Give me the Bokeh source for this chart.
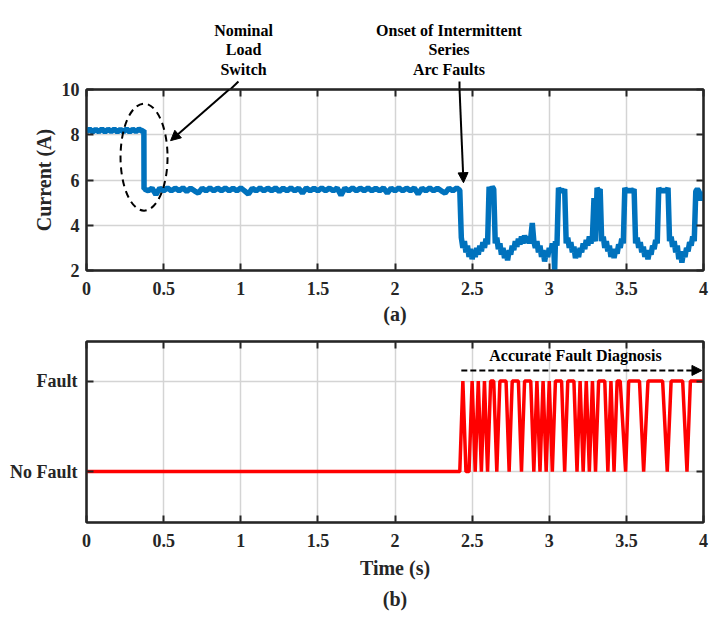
from bokeh.plotting import figure
from bokeh.models import (Range1d, LinearAxis, FixedTicker, Label, Arrow, NormalHead,
                          Title, NumeralTickFormatter)
from bokeh.layouts import column
from bokeh.embed import file_html
from bokeh.resources import INLINE

# ---------------- data ----------------
# (a) measured current, A
pre_switch_start = 0.0
pre_switch_step = 0.02
pre_switch_current = [8.14, 8.25, 8.12, 8.24, 8.13, 8.26, 8.12, 8.24, 8.14, 8.25,
                      8.12, 8.24, 8.13, 8.26, 8.12, 8.24, 8.14, 8.25, 8.16]
switch_time = [0.372, 0.373]
switch_current = [8.20, 5.60]

nominal_start = 0.375
nominal_step = 0.025
nominal_current = [5.60, 5.52, 5.64, 5.35, 5.64, 5.52, 5.65, 5.52, 5.64, 5.53,
                   5.65, 5.50, 5.64, 5.52, 5.42, 5.64, 5.52, 5.65, 5.52, 5.64,
                   5.53, 5.65, 5.52, 5.64, 5.52, 5.65, 5.52, 5.38, 5.64, 5.52,
                   5.65, 5.52, 5.64, 5.53, 5.65, 5.50, 5.64, 5.52, 5.65, 5.52,
                   5.64, 5.42, 5.65, 5.52, 5.64, 5.52, 5.65, 5.53, 5.64, 5.52,
                   5.65, 5.33, 5.64, 5.52, 5.65, 5.52, 5.64, 5.53, 5.65, 5.52,
                   5.64, 5.52, 5.65, 5.42, 5.64, 5.52, 5.65, 5.52, 5.64, 5.53,
                   5.65, 5.38, 5.64, 5.52, 5.65, 5.52, 5.64, 5.52, 5.42, 5.64,
                   5.52, 5.65]

fault_time = [2.42, 2.43, 2.44, 2.45, 2.46, 2.47, 2.48, 2.49, 2.50, 2.51,
              2.52, 2.53, 2.54, 2.55, 2.56, 2.57, 2.58, 2.59, 2.60, 2.61,
              2.62, 2.63, 2.64, 2.65, 2.66, 2.67, 2.68, 2.69, 2.70, 2.71,
              2.72, 2.73, 2.74, 2.75, 2.76, 2.77, 2.78, 2.79, 2.80, 2.81,
              2.82, 2.83, 2.84, 2.85, 2.86, 2.87, 2.88, 2.89, 2.90, 2.91,
              2.92, 2.93, 2.94, 2.95, 2.96, 2.97, 2.98, 2.99, 3.00, 3.01,
              3.02, 3.03, 3.035, 3.04, 3.05, 3.06, 3.07, 3.08, 3.09, 3.10,
              3.11, 3.12, 3.13, 3.14, 3.15, 3.16, 3.17, 3.18, 3.19, 3.20,
              3.21, 3.22, 3.23, 3.24, 3.25, 3.26, 3.27, 3.28, 3.29, 3.295,
              3.30, 3.31, 3.32, 3.33, 3.34, 3.35, 3.36, 3.37, 3.38, 3.39,
              3.40, 3.41, 3.42, 3.43, 3.44, 3.45, 3.46, 3.47, 3.48, 3.49,
              3.50, 3.51, 3.52, 3.53, 3.54, 3.55, 3.56, 3.57, 3.58, 3.59,
              3.60, 3.61, 3.62, 3.63, 3.64, 3.65, 3.66, 3.67, 3.68, 3.69,
              3.70, 3.71, 3.72, 3.73, 3.74, 3.75, 3.76, 3.77, 3.78, 3.79,
              3.80, 3.81, 3.82, 3.83, 3.84, 3.85, 3.86, 3.87, 3.88, 3.89,
              3.90, 3.91, 3.92, 3.93, 3.94, 3.95, 3.96, 3.97, 3.98, 3.99,
              4.00]
fault_current = [5.55, 3.45, 3.00, 3.30, 2.80, 3.10, 2.60, 2.95, 2.50, 2.90,
                 2.60, 3.00, 2.70, 3.10, 2.85, 3.25, 3.00, 3.40, 3.15, 5.70,
                 5.50, 5.70, 5.60, 3.20, 3.45, 2.95, 3.20, 2.70, 3.00, 2.55,
                 2.85, 2.45, 2.90, 2.70, 3.10, 2.90, 3.30, 3.05, 3.40, 3.15,
                 3.50, 3.20, 3.55, 3.25, 3.50, 3.20, 3.45, 4.10, 3.30, 3.00,
                 3.30, 2.80, 3.10, 2.60, 2.90, 2.40, 2.80, 2.60, 3.00, 2.80,
                 3.20, 2.90, 2.00, 3.30, 3.10, 5.65, 5.50, 5.60, 5.45, 5.60,
                 3.20, 3.45, 3.00, 3.25, 2.80, 3.05, 2.55, 2.85, 2.60, 3.00,
                 2.80, 3.20, 2.95, 3.35, 3.10, 3.50, 3.20, 3.50, 5.20, 3.40,
                 3.30, 5.65, 5.50, 5.60, 3.30, 3.50, 3.00, 3.30, 2.85, 3.10,
                 2.60, 2.95, 2.55, 2.90, 2.75, 3.15, 3.00, 3.40, 3.20, 5.65,
                 5.50, 5.60, 5.45, 5.60, 5.50, 5.60, 3.20, 3.45, 3.00, 3.25,
                 2.80, 3.05, 2.60, 2.90, 2.50, 2.85, 2.70, 3.10, 2.95, 3.35,
                 3.20, 5.65, 5.50, 5.60, 5.45, 5.60, 5.50, 5.65, 3.30, 3.50,
                 3.05, 3.30, 2.80, 3.10, 2.50, 2.85, 2.35, 2.80, 2.60, 3.00,
                 2.85, 3.25, 3.10, 3.50, 3.30, 5.50, 5.60, 5.50, 5.10, 5.45,
                 5.30]

# (b) diagnosis output: 0 = No Fault, 1 = Fault
diag_time = [0.0, 2.42, 2.44, 2.46, 2.48, 2.50, 2.52, 2.54, 2.56, 2.58,
             2.60, 2.62, 2.64, 2.66, 2.68, 2.72, 2.74, 2.76, 2.80, 2.82,
             2.84, 2.88, 2.90, 2.92, 2.94, 2.96, 2.98, 3.00, 3.02, 3.04,
             3.08, 3.10, 3.12, 3.16, 3.18, 3.20, 3.22, 3.24, 3.26, 3.28,
             3.30, 3.32, 3.36, 3.38, 3.40, 3.42, 3.44, 3.46, 3.495, 3.515,
             3.585, 3.612, 3.64, 3.735, 3.765, 3.79, 3.865, 3.893, 3.915, 4.0]
diag_state = [0, 0, 1, 0, 0, 1, 0, 1, 0, 1,
              0, 1, 1, 0, 1, 1, 0, 1, 1, 0,
              1, 1, 0, 1, 0, 1, 0, 1, 0, 1,
              1, 0, 1, 1, 0, 1, 0, 1, 0, 1,
              0, 1, 1, 0, 1, 0, 1, 1, 0, 1,
              1, 0, 1, 1, 0, 1, 1, 0, 1, 1]

x_ticks = [0, 0.5, 1, 1.5, 2, 2.5, 3, 3.5, 4]
current_ticks = [2, 4, 6, 8, 10]
state_ticks = [0, 1]
state_labels = {0: "No Fault", 1: "Fault"}

# ---------------- assemble series ----------------
cur_t = [pre_switch_start + pre_switch_step * k for k in range(len(pre_switch_current))]
cur_i = list(pre_switch_current)
cur_t += switch_time
cur_i += switch_current
cur_t += [nominal_start + nominal_step * k for k in range(len(nominal_current))]
cur_i += nominal_current
cur_t += fault_time
cur_i += fault_current

FONT = "Liberation Serif"
TXT = "#262626"
BLUE = "#0072BD"
GRID = "#d4d4d4"
W = 712
LEFT = 86
RIGHT = 9


def style(p):
    p.outline_line_color = "black"
    p.outline_line_width = 2
    p.background_fill_color = "white"
    p.border_fill_color = None
    for ax in p.axis:
        ax.major_tick_in = 7
        ax.major_tick_out = 0
        ax.minor_tick_line_color = None
        ax.major_tick_line_color = "#262626"
        ax.major_tick_line_width = 2
        ax.axis_line_color = "#262626"
        ax.axis_line_width = 2
        ax.major_label_text_font = FONT
        ax.major_label_text_font_style = "bold"
        ax.major_label_text_font_size = "18px"
        ax.major_label_text_color = TXT
        ax.axis_label_text_font = FONT
        ax.axis_label_text_font_style = "bold"
        ax.axis_label_text_font_size = "20px"
        ax.axis_label_text_color = TXT


def mirror(p, xt, yt):
    for loc, ticks in (("above", xt), ("right", yt)):
        ax = LinearAxis(ticker=FixedTicker(ticks=ticks), major_label_text_font_size="0px",
                        major_label_standoff=0, major_label_text_color=None,
                        major_tick_in=7, major_tick_out=0, minor_tick_line_color=None,
                        major_tick_line_color="#262626", major_tick_line_width=2,
                        axis_line_color="#262626", axis_line_width=2)
        p.add_layout(ax, loc)


def arrow_head():
    return NormalHead(size=10, fill_color="black", line_color="black")


# ---------------- header with the (a) annotations ----------------
p0 = figure(width=W, height=89, output_backend="svg", toolbar_location=None,
            x_range=Range1d(0, 4), y_range=Range1d(0, 89),
            min_border_left=LEFT, min_border_right=RIGHT, min_border_top=0, min_border_bottom=0)
p0.axis.visible = False
p0.grid.visible = False
p0.outline_line_color = None
p0.border_fill_color = None
p0.background_fill_color = None
for txt, yy in [("Nominal", 59), ("Load", 40), ("Switch", 20)]:
    p0.add_layout(Label(x=1.018, y=yy, text=txt, text_align="center", text_baseline="middle",
                        text_font=FONT, text_font_style="bold", text_font_size="16px",
                        text_color="black"))
for txt, yy in [("Onset of Intermittent", 59), ("Series", 40), ("Arc Faults", 20)]:
    p0.add_layout(Label(x=2.35, y=yy, text=txt, text_align="center", text_baseline="middle",
                        text_font=FONT, text_font_style="bold", text_font_size="16px",
                        text_color="black"))
p0.segment(x0=[0.985, 2.418], y0=[8, 8], x1=[0.925, 2.4185], y1=[-1, -1],
           line_color="black", line_width=2)

# ---------------- (a) ----------------
p1 = figure(width=W, height=293, output_backend="svg", toolbar_location=None,
            x_range=Range1d(0, 4), y_range=Range1d(2, 10),
            min_border_left=LEFT, min_border_right=RIGHT, min_border_top=12, min_border_bottom=100,
            margin=(-12, 0, 0, 0))
p1.line(cur_t, cur_i, line_color=BLUE, line_width=5.5)
p1.ellipse(x=[0.373], y=[7.01], width=47, height=107, width_units="screen",
           height_units="screen", fill_color=None,
           line_color="black", line_dash="7 5", line_width=2)
p1.xaxis.ticker = FixedTicker(ticks=x_ticks)
p1.xaxis.formatter = NumeralTickFormatter(format="0.[0]")
p1.yaxis.ticker = FixedTicker(ticks=current_ticks)
p1.xaxis.axis_label = "(a)"
p1.yaxis.axis_label = "Current (A)"
p1.xaxis.major_label_standoff = 11
p1.yaxis.major_label_standoff = 7
p1.xaxis.axis_label_standoff = 5
p1.yaxis.axis_label_standoff = 4
style(p1)
mirror(p1, x_ticks, current_ticks)
p1.xgrid.ticker = FixedTicker(ticks=x_ticks)
p1.grid.grid_line_color = GRID
p1.grid.grid_line_width = 1.5
p1.add_layout(Arrow(end=arrow_head(), x_start=0.925, y_start=10.0, x_end=0.545, y_end=7.74,
                    line_color="black", line_width=2))
p1.add_layout(Arrow(end=arrow_head(), x_start=2.4185, y_start=10.0, x_end=2.444, y_end=5.88,
                    line_color="black", line_width=2))

# ---------------- (b) ----------------
p2 = figure(width=W, height=296, output_backend="svg", toolbar_location=None,
            x_range=Range1d(0, 4), y_range=Range1d(-0.563, 1.438),
            min_border_left=LEFT, min_border_right=RIGHT, min_border_top=12, min_border_bottom=103,
            margin=(-41, 0, 0, 0))
p2.line(diag_time, diag_state, line_color="#ff0000", line_width=3.5)
p2.xaxis.ticker = FixedTicker(ticks=x_ticks)
p2.xaxis.formatter = NumeralTickFormatter(format="0.[0]")
p2.yaxis.ticker = FixedTicker(ticks=state_ticks)
p2.yaxis.major_label_overrides = state_labels
p2.xaxis.axis_label = "Time (s)"
p2.xaxis.major_label_standoff = 11
p2.yaxis.major_label_standoff = 9
p2.xaxis.axis_label_standoff = 7
style(p2)
mirror(p2, x_ticks, state_ticks)
p2.xgrid.ticker = FixedTicker(ticks=x_ticks)
p2.ygrid.ticker = FixedTicker(ticks=state_ticks)
p2.grid.grid_line_color = GRID
p2.grid.grid_line_width = 1.5
p2.add_layout(Title(text="(b)", align="center", text_font=FONT, text_font_style="bold",
                    text_font_size="20px", text_color=TXT, standoff=8), "below")

p2.add_layout(Arrow(end=arrow_head(), x_start=2.43, y_start=1.118, x_end=3.99, y_end=1.118,
                    line_color="black", line_width=2, line_dash="6 3"))
p2.add_layout(Label(x=3.17, y=1.285, text="Accurate Fault Diagnosis", text_align="center",
                    text_baseline="middle", text_font=FONT, text_font_style="bold",
                    text_font_size="16px", text_color="black"))

layout = column(p0, p1, p2, spacing=0)
open("out.html", "w").write(file_html(layout, INLINE))
